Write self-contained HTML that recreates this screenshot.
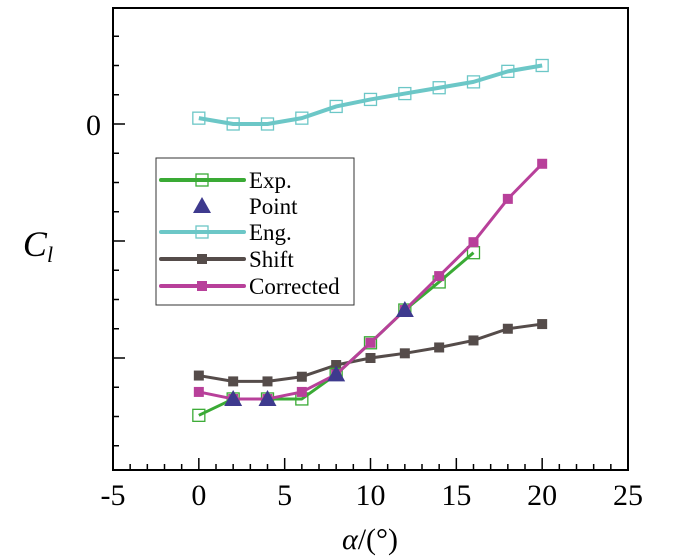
<!DOCTYPE html>
<html><head><meta charset="utf-8"><style>
body{margin:0;background:#fff}
svg{display:block;font-family:"Liberation Serif",serif}
</style></head><body>
<svg id="chart" width="700" height="560">
<rect x="113" y="8" width="515" height="462" fill="none" stroke="#000" stroke-width="2"/>
<g id="ticks"></g>
<g id="series"></g>
<text x="370" y="549" font-size="30" text-anchor="middle"><tspan font-style="italic">α</tspan>/(°)</text>
<text x="38" y="256" font-size="36" font-style="italic" text-anchor="middle">C<tspan font-size="22" dy="6">l</tspan></text>
<g>
<rect x="156" y="158" width="198" height="147" fill="#fff" stroke="#333" stroke-width="1"/>
</g>
<g id="legend"></g>
</svg>
<script>
const xs = [0,2,4,6,8,10,12,14,16,18,20];
const expX = [0,2,4,6,8,10,12,14,16];
const expY = [-2.49,-2.35,-2.35,-2.35,-2.14,-1.87,-1.59,-1.35,-1.10];
const pointX = [2,4,8,12];
const pointY = [-2.35,-2.35,-2.14,-1.59];
const engY = [0.05,0,0,0.05,0.15,0.21,0.26,0.31,0.36,0.45,0.50];
const shiftY = [-2.15,-2.20,-2.20,-2.16,-2.06,-2.00,-1.96,-1.91,-1.85,-1.75,-1.71];
const corrY = [-2.29,-2.35,-2.35,-2.29,-2.14,-1.87,-1.59,-1.30,-1.01,-0.64,-0.34];
const xTicks = [-5,0,5,10,15,20,25];
const yTicks = [0];

const NS='http://www.w3.org/2000/svg';
const X = v => 113 + (v + 5) * 515 / 30;
const Y = v => 124 - v * 117;
function mk(tag, attrs, parent){const e=document.createElementNS(NS,tag);for(const k in attrs)e.setAttribute(k,attrs[k]);parent.appendChild(e);return e;}
const ticks=document.getElementById('ticks');
const ser=document.getElementById('series');
const leg=document.getElementById('legend');

for(let v=-5; v<=25; v+=1){
  const major = v%5===0;
  const len = major?12:6;
  const t=mk('line',{x1:X(v),x2:X(v),y1:470,y2:470-len,stroke:'#000','stroke-width':1.5},ticks);
  
  
}
xTicks.forEach(v=>{
  const t=mk('text',{x:X(v),y:505,'font-size':30,'text-anchor':'middle'},ticks);
  t.textContent=v;
  
  
});
for(let i=-12;i<=4;i++){
  const v=i/4; const y=Y(v);
  if(y<8||y>470) continue;
  const major=i%4===0;
  const t=mk('line',{x1:113,x2:113+(major?12:6),y1:y,y2:y,stroke:'#000','stroke-width':1.5},ticks);
  
  
}
yTicks.forEach(v=>{
  const t=mk('text',{x:101,y:Y(v)+11,'font-size':30,'text-anchor':'end'},ticks);
  t.textContent=v;
  
  
});

function marker(type,x,y,color,parent){
  let e;
  if(type==='open') e=mk('rect',{x:x-6,y:y-6,width:12,height:12,fill:'none',stroke:color,'stroke-width':1.3},parent);
  else if(type==='fill') e=mk('rect',{x:x-5,y:y-5,width:10,height:10,fill:color},parent);
  else e=mk('polygon',{points:`${x},${y-9} ${x-9},${y+7} ${x+9},${y+7}`,fill:color},parent);
  
  
}
function series(name,xv,yv,color,w,mtype,line){
  const g=mk('g',{},ser);
  
  
  if(line){
    const p=mk('polyline',{points:xv.map((x,i)=>X(x)+','+Y(yv[i])).join(' '),fill:'none',stroke:color,'stroke-width':w,'stroke-linejoin':'round'},g);
    
    
  }
  xv.forEach((x,i)=>marker(mtype,X(x),Y(yv[i]),color,g));
}
series('eng',xs,engY,'#6cc7c7',4,'open',true);
series('shift',xs,shiftY,'#554c4a',3,'fill',true);
series('exp',expX,expY,'#3aaa35',3,'open',true);
series('corrected',xs,corrY,'#b8409a',3,'fill',true);
series('point',pointX,pointY,'#3e3a8e',0,'tri',false);

const legItems=[['Exp.','#3aaa35','open',true,180],['Point','#3e3a8e','tri',false,206],['Eng.','#6cc7c7','open',true,232],['Shift','#554c4a','fill',true,259],['Corrected','#b8409a','fill',true,286]];
legItems.forEach(([lab,c,m,l,y])=>{
  const g=mk('g',{},leg);
  
  
  if(l) mk('line',{x1:161,x2:244,y1:y,y2:y,stroke:c,'stroke-width':4,'stroke-linecap':'round'},g);
  marker(m,202,y,c,g);
  const t=mk('text',{x:249,y:y+8,'font-size':23},g);
  t.textContent=lab;
});
</script>
</body></html>
